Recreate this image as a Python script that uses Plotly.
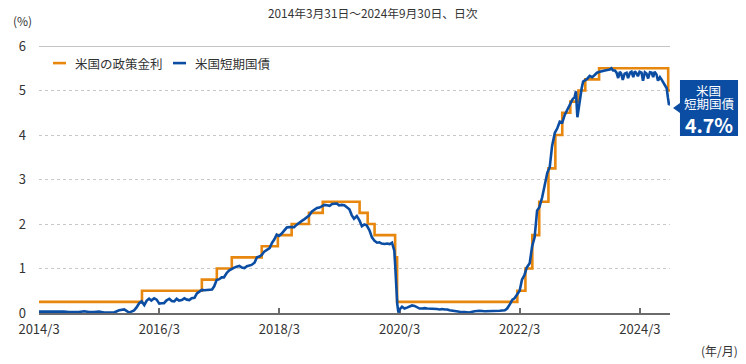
import plotly.graph_objects as go

# --- Data ---------------------------------------------------------------
policy_dates = ["2014-03-31", "2015-12-17", "2016-12-15", "2017-03-16", "2017-06-15",
                "2017-12-14", "2018-03-22", "2018-06-14", "2018-09-27", "2018-12-20",
                "2019-08-01", "2019-09-19", "2019-10-31", "2020-03-04", "2020-03-16",
                "2022-03-17", "2022-05-05", "2022-06-16", "2022-07-28", "2022-09-22",
                "2022-11-03", "2022-12-15", "2023-02-02", "2023-03-23", "2023-05-04",
                "2023-07-27", "2024-09-19", "2024-09-30"]
policy_rate = [0.25, 0.50, 0.75, 1.00, 1.25,
               1.50, 1.75, 2.00, 2.25, 2.50,
               2.25, 2.00, 1.75, 1.25, 0.25,
               0.50, 1.00, 1.75, 2.50, 3.25,
               4.00, 4.50, 4.75, 5.00, 5.25,
               5.50, 5.00, 5.00]

bill_dates = [
    "2014-03-31", "2014-04-30", "2014-05-30", "2014-06-30", "2014-07-31", "2014-08-29",
    "2014-09-30", "2014-10-31", "2014-11-28", "2014-12-31",
    "2015-01-30", "2015-02-27", "2015-03-31", "2015-04-30", "2015-05-29", "2015-06-30",
    "2015-07-31", "2015-08-31", "2015-09-30", "2015-10-30", "2015-11-13", "2015-11-30",
    "2015-12-15", "2015-12-31",
    "2016-01-15", "2016-01-29", "2016-02-12", "2016-02-29", "2016-03-15", "2016-03-31",
    "2016-04-15", "2016-04-29", "2016-05-13", "2016-05-31", "2016-06-15", "2016-06-30",
    "2016-07-15", "2016-07-29", "2016-08-15", "2016-08-31", "2016-09-15", "2016-09-30",
    "2016-10-14", "2016-10-31", "2016-11-15", "2016-11-30", "2016-12-15", "2016-12-30",
    "2017-01-13", "2017-01-31", "2017-02-15", "2017-02-28", "2017-03-15", "2017-03-31",
    "2017-04-14", "2017-04-28", "2017-05-15", "2017-05-31", "2017-06-15", "2017-06-30",
    "2017-07-14", "2017-07-31", "2017-08-15", "2017-08-31", "2017-09-15", "2017-09-29",
    "2017-10-13", "2017-10-31", "2017-11-15", "2017-11-30", "2017-12-15", "2017-12-29",
    "2018-01-12", "2018-01-31", "2018-02-15", "2018-02-28", "2018-03-15", "2018-03-29",
    "2018-04-13", "2018-04-30", "2018-05-15", "2018-05-31", "2018-06-15", "2018-06-29",
    "2018-07-13", "2018-07-31", "2018-08-15", "2018-08-31", "2018-09-14", "2018-09-28",
    "2018-10-15", "2018-10-31", "2018-11-15", "2018-11-30", "2018-12-14", "2018-12-31",
    "2019-01-15", "2019-01-31", "2019-02-15", "2019-02-28", "2019-03-15", "2019-03-29",
    "2019-04-15", "2019-04-30", "2019-05-15", "2019-05-31", "2019-06-14", "2019-06-28",
    "2019-07-15", "2019-07-31", "2019-08-15", "2019-08-30", "2019-09-13", "2019-09-30",
    "2019-10-15", "2019-10-31", "2019-11-15", "2019-11-29", "2019-12-13", "2019-12-31",
    "2020-01-15", "2020-01-31", "2020-02-14", "2020-02-28", "2020-03-04", "2020-03-10",
    "2020-03-17", "2020-03-24", "2020-03-31", "2020-04-15", "2020-04-30", "2020-05-15",
    "2020-05-29", "2020-06-15", "2020-06-30", "2020-07-15", "2020-07-31", "2020-08-14",
    "2020-08-31", "2020-09-15", "2020-09-30", "2020-10-15", "2020-10-30", "2020-11-13",
    "2020-11-30", "2020-12-15", "2020-12-31",
    "2021-01-15", "2021-01-29", "2021-02-26", "2021-03-31", "2021-04-30", "2021-05-28",
    "2021-06-30", "2021-07-30", "2021-08-31", "2021-09-30", "2021-10-29", "2021-11-30",
    "2021-12-31",
    "2022-01-14", "2022-01-31", "2022-02-15", "2022-02-28", "2022-03-15", "2022-03-31",
    "2022-04-14", "2022-04-29", "2022-05-13", "2022-05-31", "2022-06-15", "2022-06-30",
    "2022-07-15", "2022-07-29", "2022-08-15", "2022-08-31", "2022-09-15", "2022-09-30",
    "2022-10-14", "2022-10-31", "2022-11-15", "2022-11-30", "2022-12-15", "2022-12-30",
    "2023-01-13", "2023-01-31", "2023-02-15", "2023-02-28", "2023-03-08", "2023-03-17",
    "2023-03-24", "2023-03-31", "2023-04-12", "2023-04-21", "2023-05-01", "2023-05-15",
    "2023-05-31", "2023-06-15", "2023-06-30", "2023-07-14", "2023-07-31", "2023-08-15",
    "2023-08-31", "2023-09-15", "2023-09-29", "2023-10-10", "2023-10-20", "2023-10-31",
    "2023-11-10", "2023-11-20", "2023-11-30", "2023-12-08", "2023-12-18", "2023-12-29",
    "2024-01-10", "2024-01-19", "2024-01-31", "2024-02-09", "2024-02-20", "2024-02-29",
    "2024-03-08", "2024-03-19", "2024-03-29", "2024-04-10", "2024-04-19", "2024-04-30",
    "2024-05-10", "2024-05-20", "2024-05-31", "2024-06-10", "2024-06-20", "2024-06-28",
    "2024-07-10", "2024-07-19", "2024-07-31", "2024-08-09", "2024-08-20", "2024-08-30",
    "2024-09-10", "2024-09-17", "2024-09-24", "2024-09-30"]
bill_yield = [
    0.03, 0.03, 0.04, 0.04, 0.03, 0.03,
    0.02, 0.02, 0.02, 0.04,
    0.02, 0.02, 0.03, 0.01, 0.01, 0.01,
    0.06, 0.08, 0.01, 0.06, 0.12, 0.22,
    0.26, 0.18,
    0.28, 0.32, 0.28, 0.33, 0.30, 0.21,
    0.22, 0.22, 0.28, 0.32, 0.27, 0.26,
    0.32, 0.28, 0.29, 0.33, 0.30, 0.29,
    0.33, 0.34, 0.44, 0.48, 0.52, 0.51,
    0.52, 0.52, 0.53, 0.60, 0.74, 0.76,
    0.80, 0.80, 0.90, 0.96, 1.00, 1.02,
    1.04, 1.06, 1.02, 1.01, 1.05, 1.06,
    1.08, 1.13, 1.25, 1.27, 1.31, 1.38,
    1.42, 1.46, 1.58, 1.65, 1.76, 1.73,
    1.78, 1.86, 1.92, 1.93, 1.93, 1.93,
    1.98, 2.02, 2.07, 2.11, 2.15, 2.19,
    2.28, 2.32, 2.36, 2.37, 2.40, 2.43,
    2.42, 2.41, 2.45, 2.45, 2.46, 2.42,
    2.43, 2.42, 2.38, 2.33, 2.20, 2.12,
    2.18, 2.08, 1.95, 1.99, 1.97, 1.86,
    1.70, 1.62, 1.58, 1.59, 1.56, 1.55,
    1.56, 1.55, 1.58, 1.40, 1.10, 0.50,
    0.20, 0.01, 0.08, 0.14, 0.10, 0.12,
    0.14, 0.17, 0.16, 0.13, 0.10, 0.10,
    0.11, 0.10, 0.10, 0.10, 0.09, 0.09,
    0.08, 0.09, 0.08,
    0.08, 0.06, 0.04, 0.03, 0.02, 0.01,
    0.04, 0.05, 0.04, 0.04, 0.05, 0.05,
    0.06,
    0.10, 0.20, 0.30, 0.33, 0.40, 0.50,
    0.75, 0.85, 1.02, 1.12, 1.50, 1.70,
    2.30, 2.38, 2.60, 2.90, 3.15, 3.28,
    3.75, 4.05, 4.15, 4.30, 4.28, 4.45,
    4.55, 4.68, 4.80, 4.85, 4.98, 4.40,
    4.60, 4.80, 5.05, 5.20, 5.22, 5.26,
    5.33, 5.30, 5.35, 5.40, 5.42, 5.44,
    5.45, 5.46, 5.47, 5.50, 5.45, 5.45,
    5.40, 5.28, 5.42, 5.38, 5.24, 5.38,
    5.40, 5.28, 5.40, 5.42, 5.30, 5.43,
    5.40, 5.32, 5.42, 5.40, 5.22, 5.41,
    5.38, 5.27, 5.41, 5.40, 5.30, 5.42,
    5.36, 5.22, 5.30, 5.25, 5.18, 5.12,
    5.05, 4.85, 4.68, 4.70]

tick_vals = ["2014-03-31", "2016-03-31", "2018-03-31", "2020-03-31", "2022-03-31", "2024-03-31"]
tick_text = ["2014/3", "2016/3", "2018/3", "2020/3", "2022/3", "2024/3"]
y_ticks = [0, 1, 2, 3, 4, 5, 6]
series_names = ["米国の政策金利", "米国短期国債"]
end_label_lines = ["米国", "短期国債", "4.7%"]

ORANGE = "#E8870E"
BLUE = "#0B4DA2"
FONT = "Noto Sans CJK JP"
TXT = "#333333"

fig = go.Figure()
fig.add_trace(go.Scatter(x=policy_dates, y=policy_rate, name=series_names[0],
                         mode="lines", line=dict(color=ORANGE, width=2.6, shape="hv")))
fig.add_trace(go.Scatter(x=bill_dates, y=bill_yield, name=series_names[1],
                         mode="lines", line=dict(color=BLUE, width=2.6)))

fig.update_layout(
    width=746, height=364,
    margin=dict(l=39, r=76, t=46, b=51),
    paper_bgcolor="white", plot_bgcolor="white",
    font=dict(family=FONT, size=13, color=TXT),
    showlegend=False,
)
fig.update_xaxes(
    type="date", range=["2014-03-31", "2024-09-30"],
    tickmode="array", tickvals=tick_vals, ticktext=tick_text,
    showgrid=False, zeroline=False,
    showline=True, linecolor="#6b6b6b", linewidth=2,
    ticks="inside", ticklen=5, tickwidth=2, tickcolor="#6b6b6b",
    tickfont=dict(size=13, color=TXT), layer="below traces", ticklabelstandoff=3,
)
fig.update_yaxes(
    range=[0, 6], tickmode="array", tickvals=y_ticks,
    showgrid=True, gridcolor="#c8c8c8", griddash="dot", gridwidth=1,
    zeroline=False, showline=False, ticks="",
    tickfont=dict(size=13, color=TXT), ticklabelstandoff=12,
)

# top solid line at 6
fig.add_shape(type="line", xref="paper", yref="y", x0=0, x1=1, y0=6, y1=6,
              line=dict(color="#8a8a8a", width=1.2), layer="below")

# legend (drawn manually for compact keys)
leg_y = 0.936
for (x0, x1, xt), name, col in zip([(0.0222, 0.0428, 0.054), (0.2124, 0.2330, 0.244)],
                                   series_names, [ORANGE, BLUE]):
    fig.add_shape(type="line", xref="paper", yref="paper", x0=x0, x1=x1, y0=leg_y, y1=leg_y,
                  line=dict(color=col, width=2.6))
    fig.add_annotation(text=name, xref="paper", yref="paper", x=xt, y=leg_y,
                       xanchor="left", yanchor="middle", showarrow=False,
                       font=dict(size=12.5, color=TXT))

# title and unit labels
fig.add_annotation(text="2014年3月31日～2024年9月30日、日次", xref="paper", yref="paper",
                   x=0.53, y=1.0, yshift=34, xanchor="center", yanchor="middle",
                   showarrow=False, font=dict(size=11.8, color=TXT))
fig.add_annotation(text="(%)", xref="paper", yref="paper", x=0, xshift=-28, y=1.0,
                   yshift=26, xanchor="left", yanchor="middle", showarrow=False,
                   font=dict(size=12, color=TXT))
fig.add_annotation(text="(年/月)", xref="paper", yref="paper", x=1.0, xshift=70, y=0,
                   yshift=-37, xanchor="right", yanchor="middle", showarrow=False,
                   font=dict(size=12, color=TXT))

# end label box with pointer (paper coordinates, right of the plot area)
fig.add_shape(type="path", xref="paper", yref="paper",
              path="M 1.0048,0.7678 L 1.0158,0.7865 L 1.0158,0.8727 L 1.1078,0.8727 "
                   "L 1.1078,0.6629 L 1.0158,0.6629 L 1.0158,0.7491 Z",
              fillcolor=BLUE, line=dict(width=0))
for txt, ypos, size, bold in zip(end_label_lines, [0.8352, 0.7828, 0.7060],
                                 [12.5, 12.5, 19.5], [False, False, True]):
    fig.add_annotation(x=1.0618, y=ypos, xref="paper", yref="paper", xanchor="center",
                       yanchor="middle", showarrow=False,
                       text=f"<b>{txt}</b>" if bold else txt,
                       font=dict(color="white", size=size))

# remove the default 8px page margin so the figure sits at the window origin
fig.write_html("out.html", config={"displayModeBar": False},
               post_script="document.body.style.margin='0';")
